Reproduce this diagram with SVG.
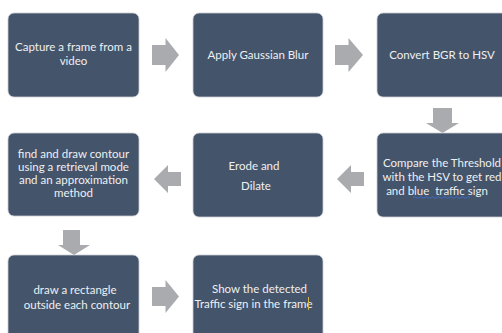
<svg xmlns="http://www.w3.org/2000/svg" width="502" height="333" viewBox="0 0 502 333">
<style>
.box{fill:#44546a;stroke:#c9cdd3;stroke-width:0.8}
.arr{fill:#a9abae}
.t{font-family:Lato,"Open Sans",sans-serif;font-size:11.5px;fill:#eef0f2;text-anchor:middle}
</style>
<rect width="502" height="333" fill="#ffffff"/>
<g id="connectors">
<path class="arr" d="M152,45 H165.5 V38 L179,55 L165.5,72 V65 H152 Z"/>
<path class="arr" d="M335,45 H348.5 V38 L363,55 L348.5,72 V65 H335 Z"/>
<path class="arr" d="M433,108 H452 V123 H459 L442.5,133 L426,123 H433 Z"/>
<path class="arr" d="M364,172 H351 V165 L337,179 L351,193 V186 H364 Z"/>
<path class="arr" d="M181,172 H168 V165 L154,179 L168,193 V186 H181 Z"/>
<path class="arr" d="M63,230 H80 V245 H90 L74,255 L58,245 H63 Z"/>
<path class="arr" d="M152,287 H165.5 V280 L179,296.5 L165.5,313 V306 H152 Z"/>
</g>
<g id="n1"><rect class="box" x="8" y="13" width="131" height="84" rx="6"/>
<text class="t" x="73.5" y="51">Capture a frame from a</text><text class="t" x="73.5" y="65">video</text></g>
<g id="n2"><rect class="box" x="193" y="13" width="130" height="84" rx="6"/>
<text class="t" x="258" y="59">Apply Gaussian Blur</text></g>
<g id="n3"><rect class="box" x="377" y="13" width="131" height="84" rx="6"/>
<text class="t" x="442" y="59">Convert BGR to HSV</text></g>
<g id="n4"><rect class="box" x="377" y="133" width="131" height="84" rx="6"/>
<text class="t" x="442" y="167">Compare the Threshold</text>
<text class="t" x="442" y="181">with the HSV to get red</text>
<text class="t" x="437" y="195" xml:space="preserve">and blue  traffic sign</text>
<path d="M413,197.5 q1.5,-1.5 3,0 t3,0 t3,0 t3,0 t3,0 t3,0 t3,0 t3,0 t3,0 t3,0 t3,0 t3,0 t3,0 t3,0 t3,0 t3,0 t3,0 t3,0 t3,0" fill="none" stroke="#3b6fd0" stroke-width="0.9"/></g>
<g id="n5"><rect class="box" x="193" y="133" width="130" height="84" rx="6"/>
<text class="t" x="254" y="170">Erode and</text><text class="t" x="256" y="190">Dilate</text></g>
<g id="n6"><rect class="box" x="8" y="133" width="131" height="83" rx="6"/>
<text class="t" x="73.5" y="158">find and draw contour</text>
<text class="t" x="73.5" y="171">using a retrieval mode</text>
<text class="t" x="73.5" y="184">and an approximation</text>
<text class="t" x="73.5" y="197">method</text></g>
<g id="n7"><rect class="box" x="8" y="255" width="131" height="84" rx="6"/>
<text class="t" x="75" y="294">draw a rectangle</text><text class="t" x="77" y="309">outside each contour</text></g>
<g id="n8"><rect class="box" x="193" y="255" width="130" height="84" rx="6"/>
<text class="t" x="259.5" y="293">Show the detected</text><text class="t" x="253.5" y="308">Traffic sign in the frame</text>
<line x1="308.5" y1="297" x2="308.5" y2="310" stroke="#d9b44a" stroke-width="1"/></g>
</svg>
